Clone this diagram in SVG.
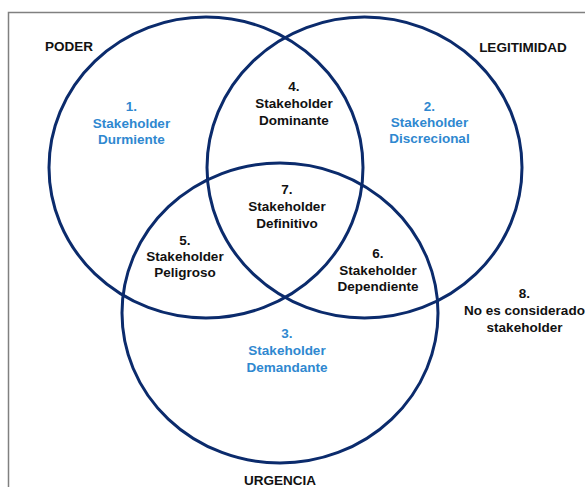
<svg xmlns="http://www.w3.org/2000/svg" width="585" height="487" viewBox="0 0 585 487">
  <style>
    .set { fill: none; stroke: #0b2b6c; stroke-width: 3; }
    .frame { fill: none; stroke: #808080; stroke-width: 1.5; }
    text { font-family: "Liberation Sans", Arial, sans-serif; font-weight: bold; font-size: 13.5px; text-anchor: middle; }
    .dark { fill: #111111; }
    .blue { fill: #2f88d0; }
  </style>
  <rect width="585" height="487" fill="#ffffff"/>
  <!-- page frame (top and left edges) -->
  <path class="frame" d="M8.5 487 V12.5 H585"/>

  <!-- the three attribute sets -->
  <g id="connectors">
    <ellipse id="set-poder" class="set" cx="206" cy="167.5" rx="157" ry="150.5"/>
    <ellipse id="set-legitimidad" class="set" cx="364.5" cy="167.5" rx="157.5" ry="150.5"/>
    <ellipse id="set-urgencia" class="set" cx="280" cy="313" rx="158" ry="150"/>
  </g>

  <!-- set titles -->
  <g id="label-poder"><text class="dark" x="69" y="51">PODER</text></g>
  <g id="label-legitimidad"><text class="dark" x="523" y="52">LEGITIMIDAD</text></g>
  <g id="label-urgencia"><text class="dark" x="280" y="485">URGENCIA</text></g>

  <!-- stakeholder classes -->
  <g id="node-1">
    <text class="blue" x="131.5" y="111">1.</text>
    <text class="blue" x="131.5" y="127.5">Stakeholder</text>
    <text class="blue" x="131.5" y="144">Durmiente</text>
  </g>
  <g id="node-2">
    <text class="blue" x="429.5" y="111">2.</text>
    <text class="blue" x="429.5" y="127">Stakeholder</text>
    <text class="blue" x="429.5" y="143">Discrecional</text>
  </g>
  <g id="node-3">
    <text class="blue" x="287" y="338">3.</text>
    <text class="blue" x="287" y="355">Stakeholder</text>
    <text class="blue" x="287" y="372">Demandante</text>
  </g>
  <g id="node-4">
    <text class="dark" x="294" y="91">4.</text>
    <text class="dark" x="294" y="108">Stakeholder</text>
    <text class="dark" x="294" y="125">Dominante</text>
  </g>
  <g id="node-5">
    <text class="dark" x="185" y="245">5.</text>
    <text class="dark" x="185" y="261">Stakeholder</text>
    <text class="dark" x="185" y="277">Peligroso</text>
  </g>
  <g id="node-6">
    <text class="dark" x="378" y="258">6.</text>
    <text class="dark" x="378" y="274.5">Stakeholder</text>
    <text class="dark" x="378" y="291">Dependiente</text>
  </g>
  <g id="node-7">
    <text class="dark" x="287" y="194">7.</text>
    <text class="dark" x="287" y="211">Stakeholder</text>
    <text class="dark" x="287" y="227.5">Definitivo</text>
  </g>
  <g id="node-8">
    <text class="dark" x="524.5" y="298">8.</text>
    <text class="dark" x="524.5" y="315">No es considerado</text>
    <text class="dark" x="524.5" y="332">stakeholder</text>
  </g>
</svg>
